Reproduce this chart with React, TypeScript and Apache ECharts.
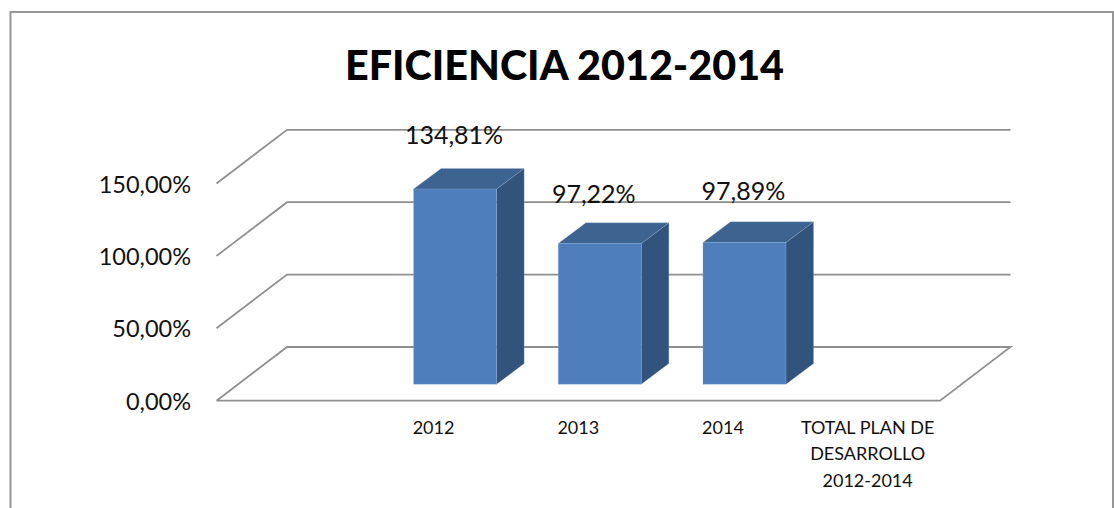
import React, { useEffect, useRef } from "react";
import * as echarts from "echarts";

const titleText = "EFICIENCIA 2012-2014";
const categories = ["", "2012", "2013", "2014", "TOTAL PLAN DE\nDESARROLLO\n2012-2014"];
const efficiency: (number | null)[] = [null, 134.81, 97.22, 97.89, null];
const yTicks = [0, 50, 100, 150];

const FONT = "Lato";
const WALL_DX = 70.5;
const WALL_DY = 53.7;
const BAR_INSET_DX = 21.5;
const BAR_INSET_DY = 16.4;
const BAR_W = 83;
const BAR_DX = 27.6;
const BAR_DY = 20.7;
const LINE = "#8f8f8f";

const fmt = (v: number) => v.toFixed(2).replace(".", ",") + "%";
const labelShift: Record<number, number> = { 1: -1, 2: -6, 3: -1 };
const labelLift: Record<number, number> = { 1: 55, 2: 51, 3: 53 };

export default function App() {
  const ref = useRef<HTMLDivElement>(null);
  useEffect(() => {
    document.body.style.margin = "0";
    const chart = echarts.init(ref.current!, null, { renderer: "svg" });
    chart.setOption({
      animation: false,
      backgroundColor: "#ffffff",
      title: {
        text: titleText,
        left: 559.5,
        top: 38,
        textAlign: "center",
        textStyle: { fontFamily: FONT, fontWeight: 900, fontSize: 41.3, color: "#000000" },
      },
      graphic: [
        {
          type: "rect",
          shape: { x: 10.5, y: 12, width: 1102.5, height: 600 },
          style: { fill: "none", stroke: "#969696", lineWidth: 2 },
          silent: true,
        },
      ],
      grid: { left: 216.5, top: 183.5, width: 723.5, height: 217.2 },
      xAxis: {
        type: "category",
        data: categories,
        axisLine: { show: false },
        axisTick: { show: false },
        axisLabel: {
          interval: 0,
          margin: 13,
          fontFamily: FONT,
          fontSize: 18,
          lineHeight: 26.5,
          color: "#111111",
        },
      },
      yAxis: {
        type: "value",
        min: 0,
        max: 150,
        interval: 50,
        axisLine: { show: false },
        axisTick: { show: false },
        splitLine: { show: false },
        axisLabel: {
          margin: 25.5,
          fontFamily: FONT,
          fontSize: 23.5,
          padding: [3, 0, 0, 0],
          color: "#111111",
          formatter: (v: number) => fmt(v),
        },
      },
      series: [
        {
          type: "custom",
          z: 1,
          clip: false,
          silent: true,
          data: yTicks.map((t) => [t]),
          encode: { y: 0 },
          renderItem: (params: any, api: any) => {
            const cs = params.coordSys;
            const y = api.coord([0, api.value(0)])[1];
            const x0 = cs.x;
            const x1 = cs.x + cs.width;
            const pts = [
              [x0, y],
              [x0 + WALL_DX, y - WALL_DY],
              [x1 + WALL_DX, y - WALL_DY],
            ];
            if (api.value(0) === 0) {
              pts.push([x1, y], [x0, y]);
            }
            return {
              type: "polyline",
              shape: { points: pts },
              style: { fill: "none", stroke: LINE, lineWidth: 1.8 },
            };
          },
        },
        {
          type: "custom",
          z: 2,
          clip: false,
          silent: true,
          data: efficiency.map((v, i) => [i, v]),
          encode: { x: 0, y: 1 },
          renderItem: (params: any, api: any) => {
            const idx = api.value(0);
            const val = api.value(1);
            if (val === null || val === undefined || isNaN(val)) return null;
            const top = api.coord([idx, val]);
            const base = api.coord([idx, 0]);
            const l = top[0] + BAR_INSET_DX - BAR_W / 2;
            const r = l + BAR_W;
            const yT = top[1] - BAR_INSET_DY;
            const yB = base[1] - BAR_INSET_DY;
            const edge = { stroke: "rgba(150,180,220,0.3)", lineWidth: 0.8 };
            return {
              type: "group",
              children: [
                {
                  type: "polygon",
                  shape: { points: [[r, yT], [r + BAR_DX, yT - BAR_DY], [r + BAR_DX, yB - BAR_DY], [r, yB]] },
                  style: { fill: "#32547C", ...edge },
                },
                {
                  type: "polygon",
                  shape: { points: [[l, yT], [l + BAR_DX, yT - BAR_DY], [r + BAR_DX, yT - BAR_DY], [r, yT]] },
                  style: { fill: "#3D6491", ...edge },
                },
                {
                  type: "rect",
                  shape: { x: l, y: yT, width: BAR_W, height: yB - yT },
                  style: { fill: "#4E7FBC", ...edge },
                },
                {
                  type: "text",
                  x: (l + r) / 2 + labelShift[idx],
                  y: yT - labelLift[idx],
                  style: {
                    text: fmt(val),
                    fontFamily: FONT,
                    fontSize: 25,
                    fill: "#111111",
                    align: "center",
                    verticalAlign: "middle",
                  },
                },
              ],
            };
          },
        },
      ],
    });
    return () => chart.dispose();
  }, []);
  return <div ref={ref} style={{ width: 1114, height: 508 }} />;
}
